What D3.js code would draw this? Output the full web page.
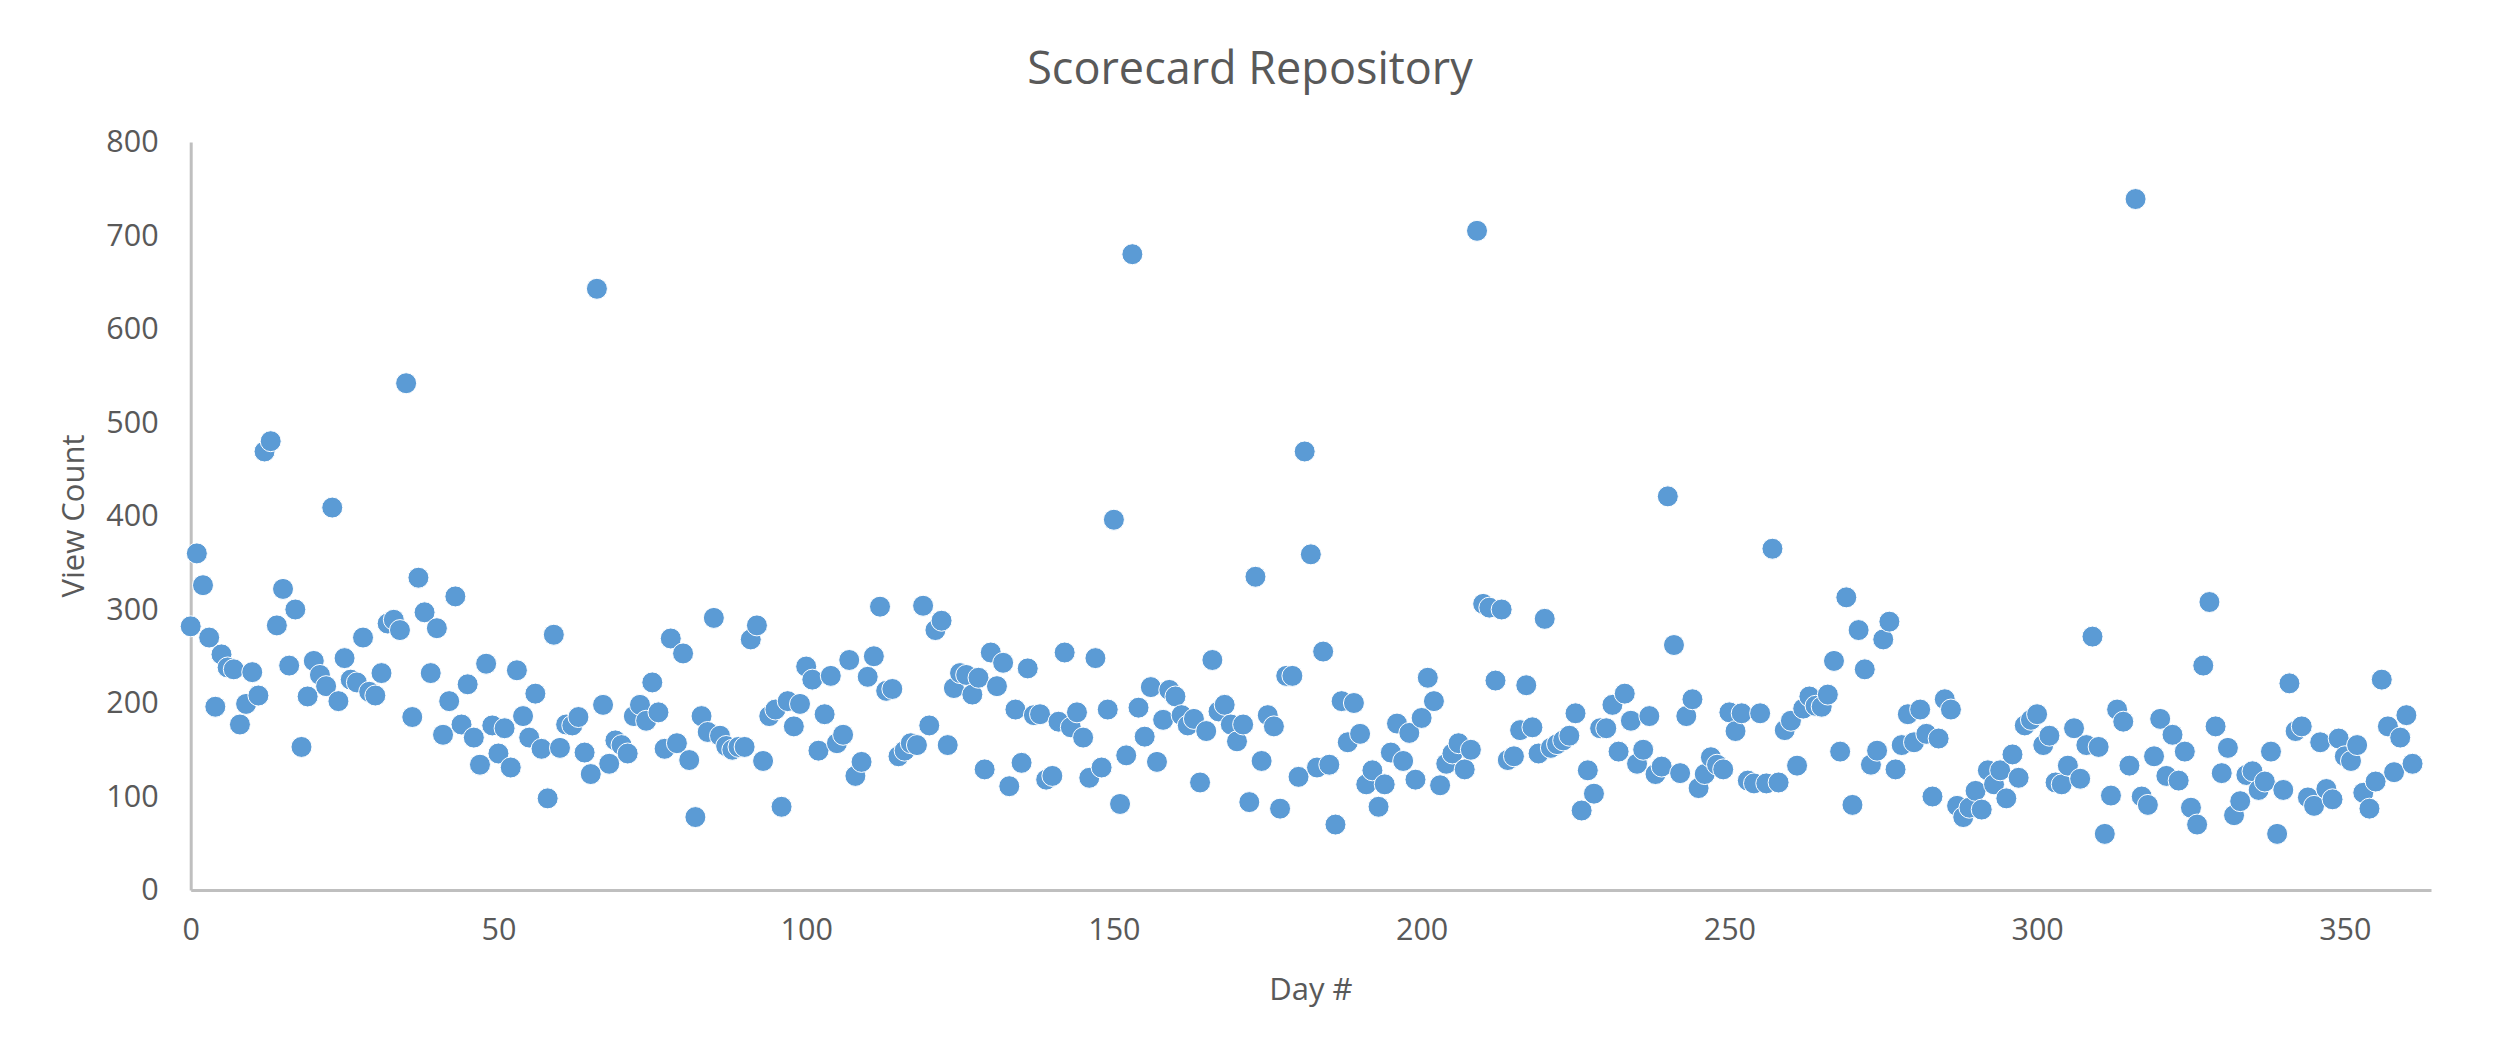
<!DOCTYPE html>
<html><head><meta charset="utf-8">
<script src="https://cdn.jsdelivr.net/npm/d3@7/dist/d3.min.js"></script>
<style>body{margin:0;background:#fff;} text{font-family:"Open Sans",sans-serif;}</style>
</head><body><svg id="c" width="2500" height="1061"></svg>
<script>
const title = "Scorecard Repository";
const xLabel = "Day #";
const yLabel = "View Count";
const xTicks = [0,50,100,150,200,250,300,350];
const yTicks = [0,100,200,300,400,500,600,700,800];
const viewCounts = [
282,360,326,270,196,252,238,236,177,199,233,208,469,480,283,322,240,300,153,207,
245,230,218,409,202,248,225,222,270,212,208,232,285,289,278,542,185,334,297,232,
280,166,202,314,177,220,163,134,242,176,146,173,131,235,186,163,210,151,98,273,
152,177,176,185,147,124,643,198,135,160,155,146,186,198,181,222,190,151,269,157,
253,139,78,186,169,291,165,154,150,153,153,268,283,138,186,193,89,202,175,199,
239,225,149,188,229,157,166,246,122,137,228,250,303,213,215,143,149,157,155,304,
176,278,288,155,216,232,230,209,227,129,254,218,243,111,193,136,237,187,188,118,
122,180,254,174,190,163,120,248,131,193,396,92,144,680,195,164,217,137,182,214,
207,187,176,183,115,170,246,191,198,177,159,177,94,335,138,187,175,87,229,229,
121,469,359,131,255,134,70,202,158,200,167,113,128,89,113,147,178,138,168,118,
184,227,202,112,135,146,157,129,150,705,306,302,224,300,139,143,171,219,174,146,
290,152,156,160,165,189,85,128,103,173,173,198,148,210,181,135,150,186,124,132,
421,262,125,186,204,109,124,142,134,129,190,170,189,117,114,189,114,365,115,171,
181,133,194,207,197,196,209,245,148,313,91,278,236,134,149,268,287,129,155,188,
158,193,167,100,162,204,193,90,78,88,106,86,128,113,128,98,145,120,176,182,
188,155,165,115,113,133,173,119,155,271,153,60,101,193,180,133,739,100,91,143,
183,122,166,117,148,88,70,240,308,175,125,152,80,95,123,127,107,116,148,60,
107,221,170,175,99,90,158,108,97,162,143,138,155,104,87,116,225,175,126,163,
187,135
];
const days = viewCounts.map((_, i) => i);

const svg = d3.select("#c");
const plotLeft = 190.7, plotRight = 2431, plotTop = 142, plotBottom = 890;
const x = d3.scaleLinear().domain([0, 364]).range([plotLeft, plotRight]);
const y = d3.scaleLinear().domain([0, 800]).range([plotBottom, plotTop]);
const textColor = "#595959", axisColor = "#bfbfbf";

svg.append("text").attr("x", 1250).attr("y", 66).attr("text-anchor","middle")
  .attr("dominant-baseline","central").attr("fill",textColor).attr("font-size",45).text(title);

const yAxis = svg.append("g").attr("transform",`translate(${plotLeft},0)`)
  .call(d3.axisLeft(y).tickValues(yTicks).tickSize(0).tickPadding(32));
yAxis.select(".domain").attr("stroke",axisColor).attr("stroke-width",3);
yAxis.selectAll("text").attr("fill",textColor).attr("font-size",30.5).attr("font-family","Open Sans");

const xAxis = svg.append("g").attr("transform",`translate(0,${plotBottom})`)
  .call(d3.axisBottom(x).tickValues(xTicks).tickSize(0).tickPadding(28));
xAxis.select(".domain").attr("stroke",axisColor).attr("stroke-width",3);
xAxis.selectAll("text").attr("fill",textColor).attr("font-size",30.5).attr("font-family","Open Sans");

svg.append("text").attr("transform",`translate(72,${(plotTop+plotBottom)/2}) rotate(-90)`)
  .attr("text-anchor","middle").attr("dominant-baseline","central")
  .attr("fill",textColor).attr("font-size",31).text(yLabel);
svg.append("text").attr("x",(plotLeft+plotRight)/2).attr("y",988).attr("text-anchor","middle")
  .attr("dominant-baseline","central").attr("fill",textColor).attr("font-size",31).text(xLabel);

svg.append("g").selectAll("circle").data(days).join("circle")
  .attr("cx", d => x(d)).attr("cy", d => y(viewCounts[d])).attr("r", 10.5)
  .attr("fill","#5b9bd5").attr("stroke","#ffffff").attr("stroke-width",1);
</script></body></html>
